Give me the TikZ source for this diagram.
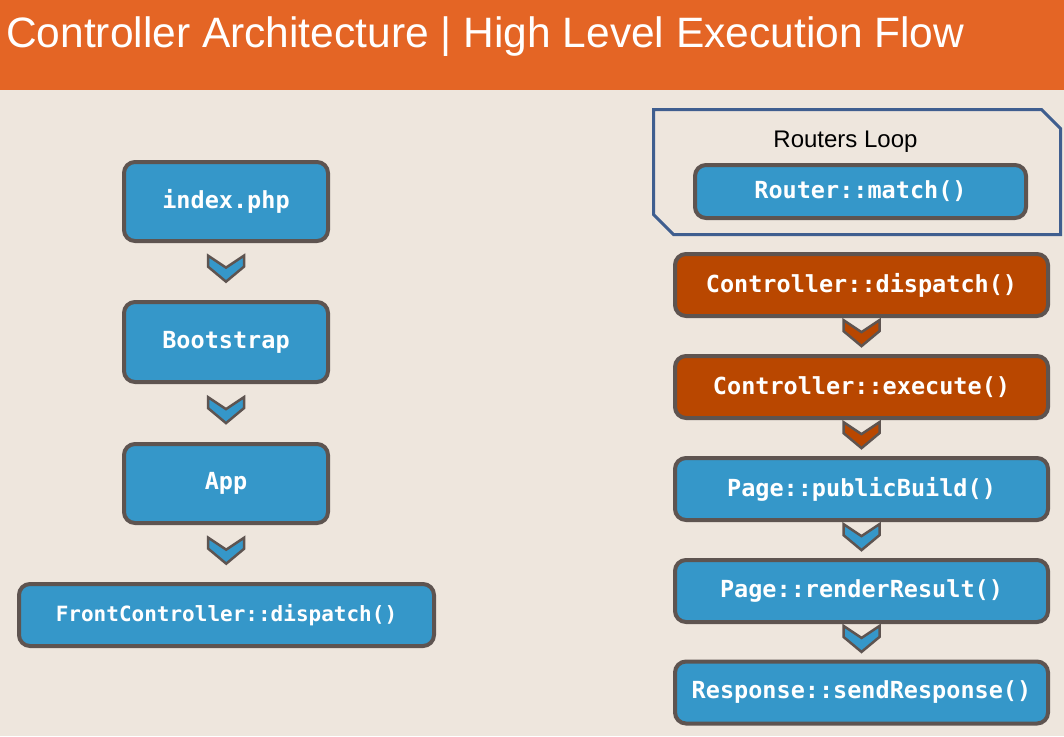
\documentclass[tikz,border=0pt]{standalone}
\usepackage{fontspec}
\setmainfont{Liberation Sans}
\newfontfamily\codefont{DejaVu Sans Mono}
\usetikzlibrary{calc}
\definecolor{bgc}{HTML}{EEE6DD}
\definecolor{hdr}{HTML}{E46525}
\definecolor{boxblue}{HTML}{3597C9}
\definecolor{boxorange}{HTML}{B94700}
\definecolor{edgec}{HTML}{5E5450}
\definecolor{framec}{HTML}{3F5E8F}
\tikzset{
  box/.style={draw=edgec, line width=4pt, rounded corners=11pt, fill=boxblue,
    text=white, inner sep=0pt, font=\codefont\bfseries\fontsize{23.5}{28}\selectfont},
  obox/.style={box, fill=boxorange},
  chev/.style={draw=edgec, line width=2.5pt, line join=miter},
}
\newcommand{\chevat}[2]{% #1 centre coordinate, #2 fill colour
  \filldraw[chev, fill=#2] ($(#1)+(-18pt,13pt)$) -- ++(0,-11pt) -- ++(18pt,-15pt)
    -- ++(18pt,15pt) -- ++(0,11pt) -- ++(-18pt,-12pt) -- cycle;}
\begin{document}
\begin{tikzpicture}[x=1pt,y=-1pt]
\useasboundingbox (0,0) rectangle (1064,736);
\fill[bgc] (0,0) rectangle (1064,736);
\fill[hdr] (0,0) rectangle (1064,90);
\node[anchor=base west, inner sep=0pt, text=white, font=\fontsize{42.5}{50}\selectfont]
  (title) at (6,47) {Controller Architecture | High Level Execution Flow};

% left column
\node[box, minimum width=204pt, minimum height=79pt] (idx) at (226,201.5) {index.php};
\node[box, minimum width=204pt, minimum height=80pt] (boot) at (226,342) {Bootstrap};
\node[box, minimum width=204pt, minimum height=79pt] (app) at (226,483.5) {App};
\node[box, minimum width=415pt, minimum height=62pt,
  font=\codefont\bfseries\fontsize{21}{25}\selectfont] (fc) at (226.5,615) {FrontController::dispatch()};

\path (idx.south) -- coordinate[pos=0.45] (m1) (boot.north);
\path (boot.south) -- coordinate[pos=0.45] (m2) (app.north);
\path (app.south) -- coordinate[pos=0.45] (m3) (fc.north);
\chevat{m1}{boxblue}
\chevat{m2}{boxblue}
\chevat{m3}{boxblue}

% right column
\draw[framec, line width=3pt] (653.5,109.5) -- (1041.5,109.5) -- (1060.5,128.5)
  -- (1060.5,234.5) -- (673.5,234.5) -- (653.5,214.5) -- cycle;
\node[anchor=base, inner sep=0pt, font=\fontsize{24}{28}\selectfont] (loop) at (845.5,147) {Routers Loop};
\node[box, minimum width=331pt, minimum height=53pt] (rm) at (860.5,191.5) {Router::match()};

\node[obox, minimum width=373pt, minimum height=62pt] (cd) at (861.5,285) {Controller::dispatch()};
\node[obox, minimum width=373pt, minimum height=62pt] (ce) at (861.5,387) {Controller::execute()};
\node[box, minimum width=373pt, minimum height=62pt] (pb) at (861.5,489) {Page::publicBuild()};
\node[box, minimum width=373pt, minimum height=62pt] (rr) at (861.5,591) {Page::renderResult()};
\node[box, minimum width=373pt, minimum height=62pt] (rs) at (861.5,692.5) {Response::sendResponse()};

\path (cd.south) -- coordinate[pos=0.42] (n1) (ce.north);
\path (ce.south) -- coordinate[pos=0.42] (n2) (pb.north);
\path (pb.south) -- coordinate[pos=0.42] (n3) (rr.north);
\path (rr.south) -- coordinate[pos=0.42] (n4) (rs.north);
\chevat{n1}{boxorange}
\chevat{n2}{boxorange}
\chevat{n3}{boxblue}
\chevat{n4}{boxblue}
\end{tikzpicture}
\end{document}
